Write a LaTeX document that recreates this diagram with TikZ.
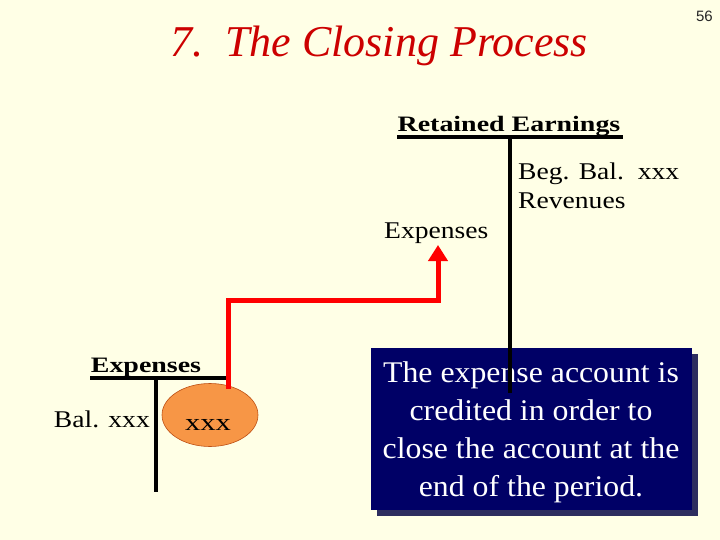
\documentclass[tikz,border=0pt]{standalone}
\usepackage{fontspec}
\setmainfont{Liberation Serif}
\newfontfamily\numfont{Liberation Sans}
\newfontfamily\serifwide[FakeStretch=1.15]{Liberation Serif}
\newfontfamily\serifbox[FakeStretch=1.06]{Liberation Serif}
\newfontfamily\serifhead[FakeStretch=1.27]{Liberation Serif}
\newfontfamily\serifxxx[FakeStretch=1.27]{Liberation Serif}
\usetikzlibrary{arrows.meta,shapes.geometric}
\definecolor{bgcol}{RGB}{255,255,230}
\definecolor{titlered}{RGB}{204,0,0}
\definecolor{navybox}{RGB}{0,0,102}
\definecolor{navyshadow}{RGB}{45,45,95}
\definecolor{orangefill}{RGB}{247,150,70}
\definecolor{orangeedge}{RGB}{190,80,20}
\begin{document}
\begin{tikzpicture}[x=1pt,y=-1pt,
  tline/.style={line width=4.5pt},
  plain/.style={inner sep=0pt,anchor=base west,font=\serifwide\fontsize{24}{26}\selectfont},
  thead/.style={inner sep=0pt,anchor=base,font=\serifhead\fontsize{22}{24}\selectfont\bfseries},
  flow/.style={line width=5pt,red,-{Triangle[width=19pt,length=16pt]}}]
\fill[bgcol] (0,0) rectangle (720,540);
\useasboundingbox (0,0) rectangle (720,540);
% title and page number
\node[inner sep=0pt,anchor=base,text=titlered,font=\fontsize{44}{48}\selectfont\itshape] (title) at (379,57) {7.\ \ The Closing Process};
\node[inner sep=0pt,anchor=base east,font=\numfont\fontsize{15}{17}\selectfont,text=black!85] (page) at (713,22) {56};
% Retained Earnings T-account
\node[thead] (rehead) at (509,132) {\underline{Retained Earnings}};
\coordinate (reL) at (397,137);
\coordinate (reR) at (623,137);
\coordinate (reTop) at (510,137);
\coordinate (reBot) at (510,393);
\node[plain] (beg) at (518,180) {Beg. Bal.\ \ xxx};
\node[plain] (rev) at (518,208) {Revenues};
\node[plain] (reexp) at (384,238) {Expenses};
% Expenses T-account
\node[thead] (exhead) at (146,372) {\underline{Expenses}};
\coordinate (exL) at (90,378);
\coordinate (exR) at (228,378);
\coordinate (exTop) at (156,378);
\coordinate (exBot) at (156,492);
\node[plain,anchor=base east] (bal) at (150,427) {Bal. xxx};
\node[ellipse,draw=orangeedge,line width=0.6pt,fill=orangefill,minimum width=96pt,minimum height=63pt,inner sep=0pt] (oval) at (210,415) {};
\node[inner sep=0pt,anchor=base,font=\serifxxx\fontsize{24}{26}\selectfont] (ovaltext) at (208,430) {xxx};
\draw[tline] (exL) -- (exR);
\draw[tline] (exTop) -- (exBot);
% explanation box
\fill[navyshadow] (377,354) rectangle (698,516);
\node[fill=navybox,minimum width=321pt,minimum height=162pt,inner sep=0pt,anchor=north west] (box) at (371,348) {};
\node[inner sep=0pt,anchor=center,text=white,font=\serifbox\fontsize{30}{38}\selectfont,align=center] (boxtext) at (531,432) {The expense account is\\credited in order to\\close the account at the\\end of the period.};
\draw[tline] (reL) -- (reR);
\draw[tline] (reTop) -- (reBot);
% red flow arrow
\coordinate (flowstart) at (228,389);
\coordinate (flowtip) at (438,245);
\draw[flow] (flowstart) |- (438,300) -- (flowtip);
\end{tikzpicture}
\end{document}
